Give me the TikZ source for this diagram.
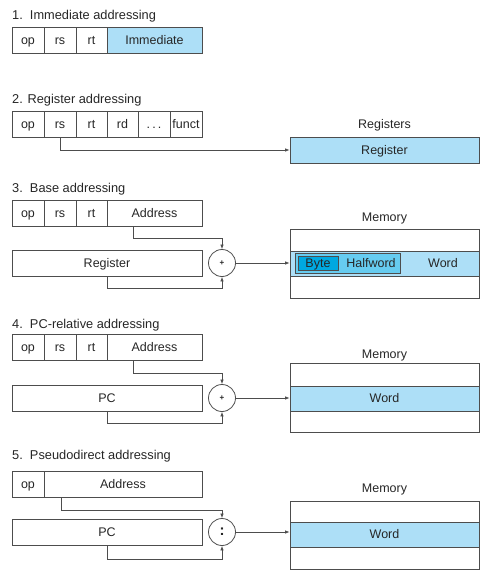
\documentclass[tikz,border=0pt]{standalone}
\usepackage{fontspec}
\setmainfont{Liberation Sans}
\usetikzlibrary{arrows.meta}
\definecolor{lblue}{HTML}{ADDFF7}
\definecolor{hblue}{HTML}{66CCF0}
\definecolor{bblue}{HTML}{00A8E0}
\definecolor{ln}{HTML}{4D4D4D}
\begin{document}
\begin{tikzpicture}[x=1pt,y=-1pt,
  every node/.style={font=\fontsize{12.5}{14}\selectfont, text=black!85, text height=10pt, text depth=2pt},
  field/.style={draw=ln, line width=0.8pt, minimum height=26pt, inner sep=0pt, anchor=center},
  cell/.style={draw=ln, line width=0.8pt, minimum width=189pt, inner sep=0pt, anchor=center},
  title/.style={anchor=west, inner sep=0pt, font=\fontsize{12.8}{14}\selectfont},
  conn/.style={draw=ln, line width=0.75pt},
  arr/.style={conn, -{Latex[length=4.5pt,width=3.5pt]}},
  adder/.style={circle, draw=ln, line width=0.8pt, minimum size=27pt, inner sep=0pt, text height=, text depth=}
]
\useasboundingbox (0,0) rectangle (494,579);

% ---------- 1. Immediate
\node[title] (t1) at (12,15) {1.\ \ Immediate addressing};
\node[field, minimum width=32pt] (a1op) at (28,40) {op};
\node[field, minimum width=32pt] (a1rs) at (60,40) {rs};
\node[field, minimum width=31pt] (a1rt) at (91.5,40) {rt};
\node[field, minimum width=95pt, fill=lblue] (a1imm) at (154.5,40) {Immediate};

% ---------- 2. Register
\node[title] (t2) at (12,99) {2. Register addressing};
\node[field, minimum width=32pt] (a2op) at (28,124) {op};
\node[field, minimum width=32pt] (a2rs) at (60,124) {rs};
\node[field, minimum width=31pt] (a2rt) at (91.5,124) {rt};
\node[field, minimum width=31pt] (a2rd) at (122.5,124) {rd};
\node[field, minimum width=32pt] (a2dots) at (154,124) {.\,.\,.};
\node[field, minimum width=32pt] (a2fn) at (186,124) {funct};
\node (lreg) at (384.5,124) {Registers};
\node[cell, minimum height=26pt, fill=lblue] (reg) at (384.5,150) {Register};
\draw[arr] (a2rs.south) |- (reg.west);

% ---------- 3. Base
\node[title] (t3) at (12,188) {3.\ \ Base addressing};
\node[field, minimum width=32pt] (a3op) at (28,213) {op};
\node[field, minimum width=32pt] (a3rs) at (60,213) {rs};
\node[field, minimum width=31pt] (a3rt) at (91.5,213) {rt};
\node[field, minimum width=95pt] (a3ad) at (154.5,213) {Address};
\node[field, minimum width=190pt] (a3reg) at (107,263) {Register};
\node[adder] (s3) at (222,263) {\fontsize{8}{8}\selectfont\textbf{+}};
\coordinate (k3a) at (133,238);
\coordinate (k3b) at (107,288);
\draw[arr] (k3a |- a3ad.south) -- (k3a) -| (s3.north);
\draw[arr] (a3reg.south -| k3b) -- (k3b) -| (s3.south);
\node (lmem3) at (384.5,217) {Memory};
\node[cell, minimum height=22pt] (m3top) at (384.5,240) {};
\node[cell, minimum height=25pt, fill=lblue] (m3mid) at (384.5,263.5) {};
\node[cell, minimum height=22pt] (m3bot) at (384.5,287) {};
\node[draw=ln, line width=0.8pt, fill=hblue, minimum width=105pt, minimum height=20pt, inner sep=0pt] (hw) at (347.5,263) {};
\node[draw=ln, line width=0.8pt, fill=bblue, minimum width=40pt, minimum height=14pt, inner sep=0pt] (byte) at (318,263) {Byte};
\node (hwl) at (371,263) {Halfword};
\node (wl3) at (443,263) {Word};
\draw[arr] (s3.east) -- (s3.east -| m3mid.west);

% ---------- 4. PC-relative
\node[title] (t4) at (12,324) {4.\ \ PC-relative addressing};
\node[field, minimum width=32pt] (a4op) at (28,347) {op};
\node[field, minimum width=32pt] (a4rs) at (60,347) {rs};
\node[field, minimum width=31pt] (a4rt) at (91.5,347) {rt};
\node[field, minimum width=95pt] (a4ad) at (154.5,347) {Address};
\node[field, minimum width=190pt] (a4pc) at (107,398) {PC};
\node[adder] (s4) at (222,398) {\fontsize{8}{8}\selectfont\textbf{+}};
\coordinate (k4a) at (133,373);
\coordinate (k4b) at (107,423);
\draw[arr] (k4a |- a4ad.south) -- (k4a) -| (s4.north);
\draw[arr] (a4pc.south -| k4b) -- (k4b) -| (s4.south);
\node (lmem4) at (384.5,354) {Memory};
\node[cell, minimum height=23pt] (m4top) at (384.5,374.5) {};
\node[cell, minimum height=25pt, fill=lblue] (m4mid) at (384.5,398.5) {Word};
\node[cell, minimum height=21pt] (m4bot) at (384.5,421.5) {};
\draw[arr] (s4.east) -- (s4.east -| m4mid.west);

% ---------- 5. Pseudodirect
\node[title] (t5) at (12,455) {5.\ \ Pseudodirect addressing};
\node[field, minimum width=32pt] (a5op) at (28,484) {op};
\node[field, minimum width=158pt] (a5ad) at (123,484) {Address};
\node[field, minimum width=190pt] (a5pc) at (107,532) {PC};
\node[adder] (s5) at (222,532) {\fontsize{15}{15}\selectfont\textbf{:}};
\coordinate (k5a) at (61,510);
\coordinate (k5b) at (107,559);
\draw[arr] (k5a |- a5ad.south) -- (k5a) -| (s5.north);
\draw[arr] (a5pc.south -| k5b) -- (k5b) -| (s5.south);
\node (lmem5) at (384.5,488) {Memory};
\node[cell, minimum height=21pt] (m5top) at (384.5,511.5) {};
\node[cell, minimum height=25pt, fill=lblue] (m5mid) at (384.5,534.5) {Word};
\node[cell, minimum height=22pt] (m5bot) at (384.5,558) {};
\draw[arr] (s5.east) -- (s5.east -| m5mid.west);
\end{tikzpicture}
\end{document}
